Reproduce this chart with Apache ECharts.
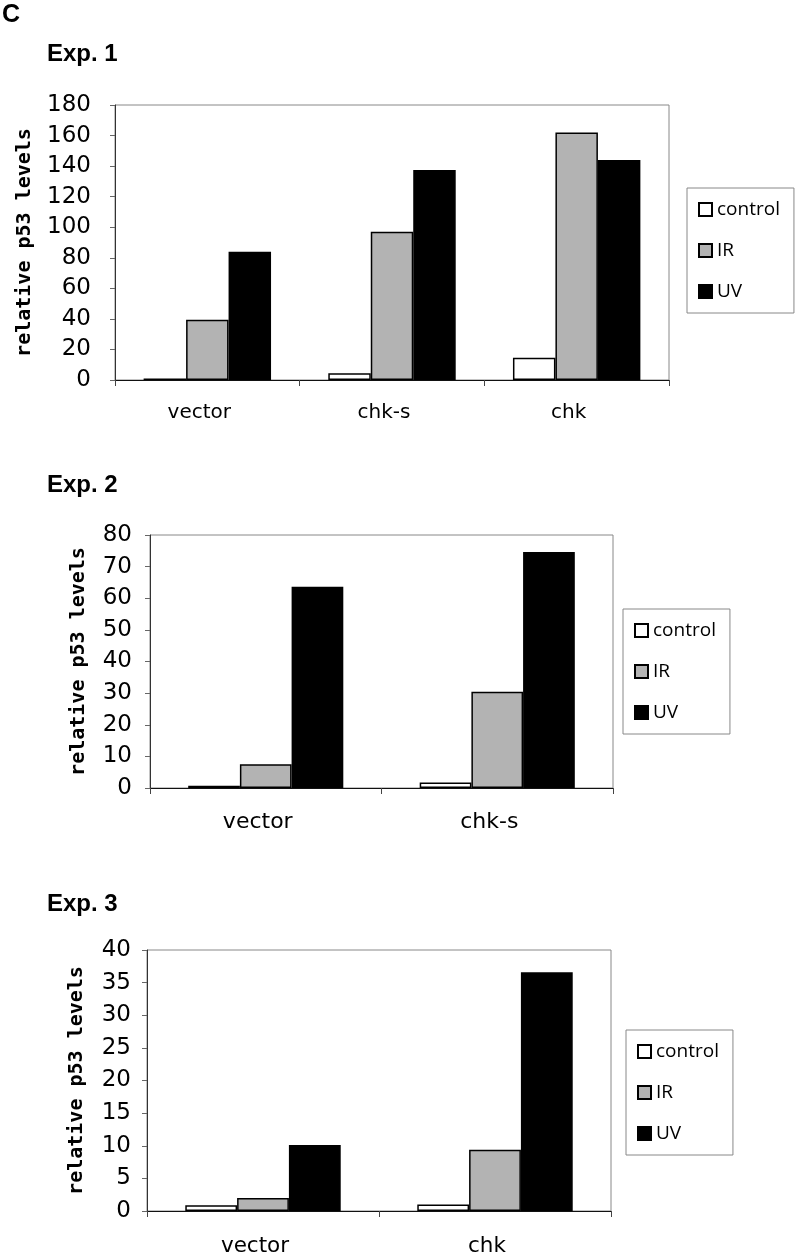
<!DOCTYPE html>
<html>
<head>
<meta charset="utf-8">
<script src="https://cdn.jsdelivr.net/npm/echarts@6/dist/echarts.min.js"></script>
<style>
html,body{margin:0;padding:0;background:#fff;}
#chart{width:800px;height:1257px;}
</style>
</head>
<body>
<div id="chart"></div>
<script>
// ---- data ----
const seriesNames = ['control', 'IR', 'UV'];
const yAxisTitle = 'relative p53 levels';

const exp1Title = 'Exp. 1';
const exp1Categories = ['vector', 'chk-s', 'chk'];
const exp1Control = [1, 4.5, 14.5];
const exp1IR = [39.5, 97, 162];
const exp1UV = [84, 137.5, 144];
const exp1Ticks = [0, 180, 20];

const exp2Title = 'Exp. 2';
const exp2Categories = ['vector', 'chk-s'];
const exp2Control = [0.7, 1.7];
const exp2IR = [7.5, 30.4];
const exp2UV = [63.6, 74.6];
const exp2Ticks = [0, 80, 10];

const exp3Title = 'Exp. 3';
const exp3Categories = ['vector', 'chk'];
const exp3Control = [0.9, 1.0];
const exp3IR = [2.0, 9.4];
const exp3UV = [10.1, 36.6];
const exp3Ticks = [0, 40, 5];

// ---- styles ----
const fills = ['#ffffff', '#b3b3b3', '#000000'];
const labelFont = 'DejaVu Sans';
const nameFont = 'DejaVu Sans Mono';

const grids = [
  {left: 115, top: 105, width: 554, height: 275},
  {left: 150, top: 535, width: 463, height: 253},
  {left: 147, top: 950, width: 464, height: 264}
];
const cats = [exp1Categories, exp2Categories, exp3Categories];
const ticks = [exp1Ticks, exp2Ticks, exp3Ticks];
const data = [
  [exp1Control, exp1IR, exp1UV],
  [exp2Control, exp2IR, exp2UV],
  [exp3Control, exp3IR, exp3UV]
];
const gaps = ['31%', '33%', '33%'];
const yLabelSize = [23, 23, 23];
const yLabelMargin = [24, 18, 16];
const xLabelSize = [20, 22, 21.5];
const xLabelMargin = [23, 23, 24];
const nameGaps = [80, 61, 60];
const legendPos = [
  {left: 687, top: 188},
  {left: 623, top: 609},
  {left: 626, top: 1030}
];

const option = {
  backgroundColor: '#fff',
  animation: false,
  title: [
    {text: 'C', left: 2, top: 3, padding: 0,
     textStyle: {fontFamily: 'Liberation Sans', fontWeight: 'bold', fontSize: 25, color: '#000'}},
    {text: exp1Title, left: 47, top: 42, padding: 0,
     textStyle: {fontFamily: 'Liberation Sans', fontWeight: 'bold', fontSize: 24, color: '#000'}},
    {text: exp2Title, left: 47, top: 473, padding: 0,
     textStyle: {fontFamily: 'Liberation Sans', fontWeight: 'bold', fontSize: 24, color: '#000'}},
    {text: exp3Title, left: 47, top: 892, padding: 0,
     textStyle: {fontFamily: 'Liberation Sans', fontWeight: 'bold', fontSize: 24, color: '#000'}}
  ],
  grid: grids.map(g => Object.assign({show: true, borderColor: '#888', borderWidth: 1, backgroundColor: 'transparent'}, g)),
  legend: legendPos.map(p => ({
    left: p.left, top: p.top, orient: 'vertical',
    data: seriesNames, icon: 'rect', itemWidth: 13, itemHeight: 13, itemGap: 22,
    padding: [12, 14, 12, 11],
    borderColor: '#888', borderWidth: 1, backgroundColor: '#fff',
    textStyle: {fontFamily: 'Open Sans', fontSize: 19, color: '#000', lineHeight: 13},
    selectedMode: false
  })),
  xAxis: cats.map((c, i) => ({
    type: 'category', gridIndex: i, data: c,
    axisLine: {show: true, lineStyle: {color: '#111', width: 1}},
    axisTick: {show: true, inside: false, length: 6, interval: 0, lineStyle: {color: '#444'}},
    axisLabel: {fontFamily: labelFont, fontSize: xLabelSize[i], color: '#000', margin: xLabelMargin[i],
                interval: 0, padding: [0, 16, 0, 0]},
    splitLine: {show: false}
  })),
  yAxis: ticks.map((t, i) => ({
    type: 'value', gridIndex: i, min: t[0], max: t[1], interval: t[2],
    name: yAxisTitle, nameLocation: 'middle', nameGap: nameGaps[i],
    nameTextStyle: {fontFamily: nameFont, fontWeight: 'bold', fontSize: 20, color: '#000'},
    axisLine: {show: true, lineStyle: {color: '#333', width: 1}},
    axisTick: {show: true, inside: false, length: 5, lineStyle: {color: '#666'}},
    axisLabel: {fontFamily: labelFont, fontSize: yLabelSize[i], color: '#000', margin: yLabelMargin[i]},
    splitLine: {show: false}
  })),
  series: []
};

data.forEach((group, gi) => {
  group.forEach((vals, si) => {
    option.series.push({
      type: 'bar', name: seriesNames[si], xAxisIndex: gi, yAxisIndex: gi,
      data: vals, barGap: '0%', barCategoryGap: gaps[gi],
      itemStyle: {color: fills[si], borderColor: '#000', borderWidth: 1.5},
      emphasis: {disabled: true}
    });
  });
});

const chart = echarts.init(document.getElementById('chart'), null, {renderer: 'canvas'});
chart.setOption(option);
</script>
</body>
</html>
